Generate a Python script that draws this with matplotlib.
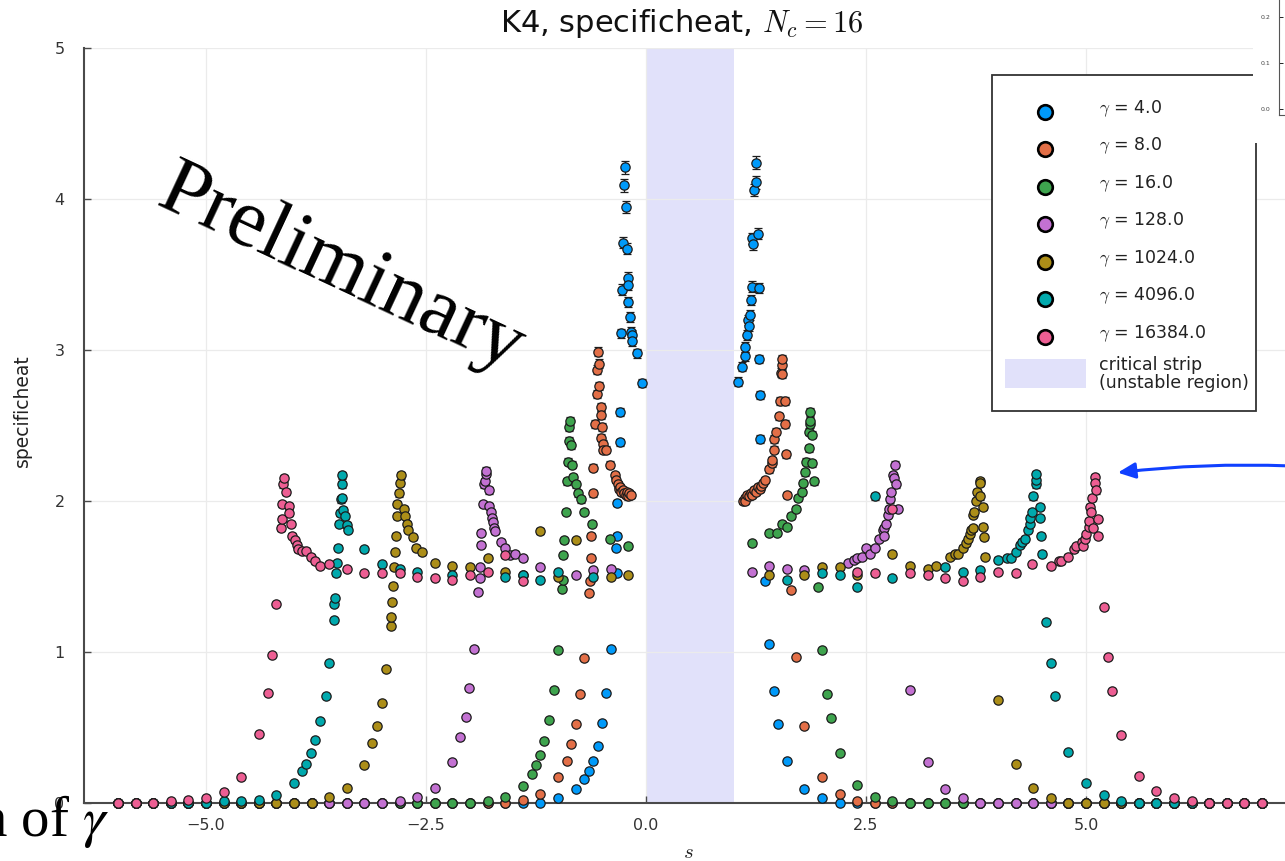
import matplotlib
matplotlib.use("Agg")
import matplotlib.pyplot as plt
from matplotlib.patches import Rectangle, FancyArrowPatch, ArrowStyle
from matplotlib.lines import Line2D

plt.rcParams['font.family'] = ['DejaVu Sans']
plt.rcParams['mathtext.fontset'] = 'cm'

W, H, DPI = 1285, 861, 100

# ---------------------------------------------------------------- data
gamma_labels = ["4.0", "8.0", "16.0", "128.0", "1024.0", "4096.0", "16384.0"]
series_colors = ["#009AFA", "#E36F47", "#3EA44E", "#C371D2",
                 "#AC8E18", "#00A9AD", "#ED5E93"]

# (s, specific heat) for gamma = 4
g4_pts = [(-6.0, 0.0), (-5.8, 0.0), (-5.6, 0.0), (-5.4, 0.0), (-5.2, 0.0), (-5.0, 0.0),
          (-4.8, 0.0), (-4.6, 0.0), (-4.4, 0.0), (-4.2, 0.0), (-4.0, 0.0), (-3.8, 0.0),
          (-3.6, 0.0), (-3.4, 0.0), (-3.2, 0.0), (-3.0, 0.0), (-2.8, 0.0), (-2.6, 0.0),
          (-2.4, 0.0), (-2.2, 0.0), (-2.0, 0.0), (-1.8, 0.0), (-1.6, 0.0), (-1.4, 0.0),
          (-1.2, 0.0), (-1.0, 0.03), (-0.8, 0.09), (-0.7, 0.16), (-0.65, 0.21), (-0.6, 0.28),
          (-0.55, 0.38), (-0.5, 0.53), (-0.45, 0.73), (-0.4, 1.02),
          (-0.34, 1.69), (-0.33, 1.52), (-0.33, 1.77), (-0.33, 1.99), (-0.30, 2.39),
          (-0.30, 2.59), (-0.28, 3.11), (-0.27, 3.40), (-0.26, 3.71), (-0.25, 4.09),
          (-0.24, 4.21), (-0.23, 3.95), (-0.22, 3.67), (-0.21, 3.48), (-0.20, 3.43),
          (-0.20, 3.32), (-0.18, 3.22), (-0.17, 3.12), (-0.16, 3.10), (-0.16, 3.06),
          (-0.10, 2.98), (-0.05, 2.78),
          (1.05, 2.79), (1.09, 2.89), (1.12, 2.96), (1.13, 3.02), (1.15, 3.10), (1.16, 3.20),
          (1.17, 3.16), (1.18, 3.23), (1.19, 3.33), (1.20, 3.42), (1.21, 3.74), (1.22, 3.70),
          (1.23, 4.06), (1.25, 4.11), (1.25, 4.24), (1.27, 3.77), (1.28, 3.41), (1.28, 2.94),
          (1.29, 2.70), (1.30, 2.41), (1.35, 1.47),
          (1.40, 1.05), (1.45, 0.74), (1.50, 0.52), (1.60, 0.28), (1.80, 0.09), (2.0, 0.03),
          (2.2, 0.0), (2.4, 0.0), (2.6, 0.0), (2.8, 0.0), (3.0, 0.0), (3.2, 0.0), (3.4, 0.0),
          (3.6, 0.0), (3.8, 0.0), (4.0, 0.0), (4.2, 0.0), (4.4, 0.0), (4.6, 0.0), (4.8, 0.0),
          (5.0, 0.0), (5.2, 0.0), (5.4, 0.0), (5.6, 0.0), (5.8, 0.0), (6.0, 0.0), (6.2, 0.0),
          (6.4, 0.0), (6.6, 0.0), (6.8, 0.0), (7.0, 0.0)]

# gamma = 8
g8_pts = [(-6.0, 0.0), (-5.8, 0.0), (-5.6, 0.0), (-5.4, 0.0), (-5.2, 0.0), (-5.0, 0.0),
          (-4.8, 0.0), (-4.6, 0.0), (-4.4, 0.0), (-4.2, 0.0), (-4.0, 0.0), (-3.8, 0.0),
          (-3.6, 0.0), (-3.4, 0.0), (-3.2, 0.0), (-3.0, 0.0), (-2.8, 0.0), (-2.6, 0.0),
          (-2.4, 0.0), (-2.2, 0.0), (-2.0, 0.0), (-1.8, 0.0), (-1.6, 0.0), (-1.4, 0.02),
          (-1.2, 0.06), (-1.0, 0.17), (-0.9, 0.28), (-0.85, 0.39), (-0.8, 0.52), (-0.75, 0.72),
          (-0.7, 0.96),
          (-0.65, 1.39), (-0.64, 1.47), (-0.63, 1.62), (-0.62, 1.77), (-0.60, 2.05),
          (-0.60, 2.22), (-0.58, 2.51), (-0.56, 2.71), (-0.56, 2.87), (-0.54, 2.99),
          (-0.53, 2.91), (-0.53, 2.76), (-0.51, 2.62), (-0.51, 2.57), (-0.51, 2.42),
          (-0.50, 2.49), (-0.49, 2.38), (-0.49, 2.34), (-0.45, 2.34), (-0.41, 2.24),
          (-0.35, 2.17), (-0.34, 2.14), (-0.32, 2.11), (-0.31, 2.08), (-0.29, 2.09),
          (-0.28, 2.06), (-0.26, 2.07), (-0.25, 2.05), (-0.23, 2.04), (-0.22, 2.06),
          (-0.20, 2.03), (-0.19, 2.05), (-0.17, 2.04),
          (1.10, 2.00), (1.12, 2.02), (1.13, 2.00), (1.15, 2.04), (1.17, 2.03), (1.19, 2.05),
          (1.21, 2.04), (1.23, 2.07), (1.25, 2.06), (1.27, 2.09), (1.29, 2.08), (1.31, 2.10),
          (1.33, 2.12), (1.35, 2.14), (1.40, 2.21), (1.43, 2.25), (1.43, 2.27), (1.45, 2.34),
          (1.46, 2.41), (1.48, 2.46), (1.51, 2.56), (1.52, 2.66), (1.53, 2.85), (1.54, 2.90),
          (1.54, 2.94), (1.55, 2.84), (1.58, 2.66), (1.58, 2.51), (1.59, 2.31), (1.60, 2.04),
          (1.65, 1.41),
          (1.70, 0.97), (1.80, 0.51), (2.0, 0.17), (2.2, 0.06), (2.4, 0.01), (2.6, 0.0),
          (2.8, 0.0), (3.0, 0.0), (3.2, 0.0), (3.4, 0.0), (3.6, 0.0), (3.8, 0.0), (4.0, 0.0),
          (4.2, 0.0), (4.4, 0.0), (4.6, 0.0), (4.8, 0.0), (5.0, 0.0), (5.2, 0.0), (5.4, 0.0),
          (5.6, 0.0), (5.8, 0.0), (6.0, 0.0), (6.2, 0.0), (6.4, 0.0), (6.6, 0.0), (6.8, 0.0),
          (7.0, 0.0)]

# gamma = 16
g16_pts = [(-6.0, 0.0), (-5.8, 0.0), (-5.6, 0.0), (-5.4, 0.0), (-5.2, 0.0), (-5.0, 0.0),
           (-4.8, 0.0), (-4.6, 0.0), (-4.4, 0.0), (-4.2, 0.0), (-4.0, 0.0), (-3.8, 0.0),
           (-3.6, 0.0), (-3.4, 0.0), (-3.2, 0.0), (-3.0, 0.0), (-2.8, 0.0), (-2.6, 0.0),
           (-2.4, 0.0), (-2.2, 0.0), (-2.0, 0.0), (-1.8, 0.01), (-1.6, 0.04), (-1.4, 0.11),
           (-1.3, 0.19), (-1.25, 0.25), (-1.2, 0.32), (-1.16, 0.41), (-1.1, 0.55),
           (-1.05, 0.75), (-1.0, 1.01),
           (-0.95, 1.42), (-0.94, 1.48), (-0.94, 1.64), (-0.93, 1.74), (-0.91, 1.93),
           (-0.90, 2.13), (-0.89, 2.26), (-0.88, 2.40), (-0.87, 2.49), (-0.86, 2.53),
           (-0.85, 2.37), (-0.84, 2.24), (-0.83, 2.16), (-0.79, 2.11), (-0.77, 2.05),
           (-0.74, 2.01), (-0.70, 1.93), (-0.61, 1.85), (-0.41, 1.75), (-0.20, 1.70),
           (1.20, 1.72), (1.40, 1.79), (1.49, 1.79), (1.55, 1.85), (1.60, 1.83), (1.65, 1.90),
           (1.70, 1.95), (1.73, 2.02), (1.77, 2.06), (1.78, 2.12), (1.81, 2.19), (1.82, 2.26),
           (1.85, 2.35), (1.85, 2.46), (1.86, 2.51), (1.86, 2.53), (1.86, 2.59), (1.89, 2.44),
           (1.89, 2.25), (1.91, 2.13), (1.95, 1.43),
           (2.0, 1.01), (2.06, 0.72), (2.10, 0.56), (2.20, 0.33), (2.40, 0.12), (2.60, 0.04),
           (2.80, 0.01), (3.0, 0.0), (3.2, 0.0), (3.4, 0.0), (3.6, 0.0), (3.8, 0.0), (4.0, 0.0),
           (4.2, 0.0), (4.4, 0.0), (4.6, 0.0), (4.8, 0.0), (5.0, 0.0), (5.2, 0.0), (5.4, 0.0),
           (5.6, 0.0), (5.8, 0.0), (6.0, 0.0), (6.2, 0.0), (6.4, 0.0), (6.6, 0.0), (6.8, 0.0),
           (7.0, 0.0)]

# gamma = 128
g128_pts = [(-6.0, 0.0), (-5.8, 0.0), (-5.6, 0.0), (-5.4, 0.0), (-5.2, 0.0), (-5.0, 0.0),
            (-4.8, 0.0), (-4.6, 0.0), (-4.4, 0.0), (-4.2, 0.0), (-4.0, 0.0), (-3.8, 0.0),
            (-3.6, 0.0), (-3.4, 0.0), (-3.2, 0.0), (-3.0, 0.0), (-2.8, 0.01), (-2.6, 0.04),
            (-2.4, 0.10), (-2.2, 0.27), (-2.11, 0.44), (-2.05, 0.57), (-2.01, 0.76),
            (-1.95, 1.02),
            (-1.91, 1.40), (-1.89, 1.49), (-1.89, 1.56), (-1.87, 1.71), (-1.87, 1.79),
            (-1.85, 1.98), (-1.84, 2.11), (-1.83, 2.13), (-1.82, 2.18), (-1.82, 2.20),
            (-1.78, 2.07), (-1.78, 1.97), (-1.76, 1.93), (-1.75, 1.89), (-1.74, 1.86),
            (-1.73, 1.82), (-1.72, 1.80), (-1.65, 1.73), (-1.60, 1.69), (-1.54, 1.64),
            (-1.49, 1.65), (-1.40, 1.62), (-1.20, 1.56), (-0.80, 1.51), (-0.60, 1.54),
            (-0.40, 1.55),
            (1.20, 1.53), (1.40, 1.57), (1.60, 1.55), (1.80, 1.54), (2.30, 1.59), (2.36, 1.61),
            (2.40, 1.62), (2.45, 1.63), (2.50, 1.69), (2.55, 1.65), (2.60, 1.69), (2.65, 1.75),
            (2.69, 1.81), (2.70, 1.82), (2.71, 1.77), (2.73, 1.85), (2.75, 1.91), (2.76, 1.95),
            (2.77, 2.01), (2.78, 2.06), (2.81, 2.17), (2.82, 2.15), (2.83, 2.24), (2.84, 2.11),
            (2.86, 1.95),
            (3.0, 0.75), (3.2, 0.27), (3.4, 0.09), (3.6, 0.03), (3.8, 0.0), (4.0, 0.0),
            (4.2, 0.0), (4.4, 0.0), (4.6, 0.0), (4.8, 0.0), (5.0, 0.0), (5.2, 0.0), (5.4, 0.0),
            (5.6, 0.0), (5.8, 0.0), (6.0, 0.0), (6.2, 0.0), (6.4, 0.0), (6.6, 0.0), (6.8, 0.0),
            (7.0, 0.0)]

# gamma = 1024
g1024_pts = [(-6.0, 0.0), (-5.8, 0.0), (-5.6, 0.0), (-5.4, 0.0), (-5.2, 0.0), (-5.0, 0.0),
             (-4.8, 0.0), (-4.6, 0.0), (-4.4, 0.0), (-4.2, 0.0), (-4.0, 0.0), (-3.8, 0.0),
             (-3.6, 0.04), (-3.4, 0.10), (-3.2, 0.25), (-3.11, 0.40), (-3.06, 0.51),
             (-3.0, 0.66), (-2.95, 0.89), (-2.90, 1.17), (-2.90, 1.23), (-2.89, 1.33),
             (-2.87, 1.44), (-2.86, 1.56), (-2.85, 1.66), (-2.84, 1.77), (-2.83, 1.90),
             (-2.83, 1.98), (-2.81, 2.05), (-2.79, 2.12), (-2.78, 2.17), (-2.75, 1.95),
             (-2.74, 1.90), (-2.72, 1.85), (-2.70, 1.81), (-2.65, 1.76), (-2.61, 1.69),
             (-2.55, 1.66), (-2.40, 1.59), (-2.20, 1.57), (-2.00, 1.56), (-1.80, 1.62),
             (-1.60, 1.53), (-1.40, 1.51), (-1.20, 1.80), (-1.00, 1.50), (-0.80, 1.74),
             (-0.40, 1.50), (-0.20, 1.51),
             (1.40, 1.51), (1.80, 1.51), (2.00, 1.56), (2.20, 1.56), (2.40, 1.51), (2.80, 1.65),
             (3.00, 1.57), (3.20, 1.55), (3.30, 1.57), (3.45, 1.63), (3.51, 1.65), (3.55, 1.65),
             (3.60, 1.69), (3.64, 1.72), (3.66, 1.75), (3.68, 1.78), (3.69, 1.81), (3.72, 1.82),
             (3.72, 1.91), (3.73, 1.93), (3.75, 2.00), (3.76, 2.06), (3.79, 2.13), (3.80, 2.12),
             (3.80, 2.03), (3.83, 1.96), (3.83, 1.83), (3.84, 1.76), (3.85, 1.63),
             (4.0, 0.68), (4.2, 0.26), (4.4, 0.10), (4.6, 0.03), (4.8, 0.0), (5.0, 0.0),
             (5.2, 0.0), (5.4, 0.0), (5.6, 0.0), (5.8, 0.0), (6.0, 0.0), (6.2, 0.0), (6.4, 0.0),
             (6.6, 0.0), (6.8, 0.0), (7.0, 0.0)]

# gamma = 4096
g4096_pts = [(-6.0, 0.0), (-5.8, 0.0), (-5.6, 0.0), (-5.4, 0.0), (-5.2, 0.0), (-5.0, 0.0),
             (-4.8, 0.01), (-4.6, 0.01), (-4.4, 0.02), (-4.2, 0.05), (-4.0, 0.13),
             (-3.91, 0.21), (-3.86, 0.26), (-3.81, 0.33), (-3.76, 0.42), (-3.70, 0.54),
             (-3.64, 0.71), (-3.60, 0.93), (-3.55, 1.21), (-3.54, 1.32), (-3.53, 1.36),
             (-3.52, 1.52), (-3.51, 1.59), (-3.50, 1.69), (-3.49, 1.85), (-3.48, 1.92),
             (-3.47, 2.01), (-3.46, 2.02), (-3.45, 2.11), (-3.45, 2.17), (-3.44, 1.94),
             (-3.42, 1.90), (-3.40, 1.84), (-3.39, 1.81), (-3.20, 1.68), (-3.00, 1.58),
             (-2.80, 1.55), (-2.60, 1.53), (-2.20, 1.51), (-1.60, 1.50), (-1.40, 1.51),
             (-1.20, 1.48), (-1.00, 1.53), (-0.60, 1.50),
             (1.60, 1.48), (2.00, 1.52), (2.20, 1.51), (2.40, 1.43), (2.60, 2.03), (2.80, 1.49),
             (3.40, 1.56), (3.60, 1.53), (3.80, 1.54), (4.00, 1.61), (4.10, 1.62), (4.15, 1.62),
             (4.20, 1.66), (4.25, 1.71), (4.27, 1.73), (4.31, 1.75), (4.34, 1.81), (4.36, 1.85),
             (4.36, 1.89), (4.39, 1.93), (4.40, 2.03), (4.43, 2.11), (4.43, 2.14), (4.43, 2.18),
             (4.48, 1.96), (4.48, 1.89), (4.49, 1.77), (4.50, 1.65),
             (4.55, 1.20), (4.60, 0.93), (4.65, 0.71), (4.80, 0.34), (5.0, 0.13), (5.2, 0.05),
             (5.4, 0.01), (5.6, 0.0), (5.8, 0.0), (6.0, 0.0), (6.2, 0.0), (6.4, 0.0), (6.6, 0.0),
             (6.8, 0.0), (7.0, 0.0)]

# gamma = 16384
g16384_pts = [(-6.0, 0.0), (-5.8, 0.0), (-5.6, 0.0), (-5.4, 0.01), (-5.2, 0.02), (-5.0, 0.03),
              (-4.8, 0.07), (-4.6, 0.17), (-4.4, 0.46), (-4.3, 0.73), (-4.25, 0.98),
              (-4.2, 1.32),
              (-4.15, 1.82), (-4.14, 1.88), (-4.14, 1.98), (-4.12, 2.11), (-4.11, 2.15),
              (-4.09, 2.06), (-4.06, 1.97), (-4.06, 1.92), (-4.03, 1.85), (-4.02, 1.77),
              (-3.99, 1.74), (-3.97, 1.71), (-3.95, 1.68), (-3.91, 1.67), (-3.86, 1.67),
              (-3.81, 1.63), (-3.76, 1.60), (-3.70, 1.57), (-3.60, 1.58), (-3.40, 1.55),
              (-3.20, 1.52), (-3.00, 1.52), (-2.80, 1.52), (-2.60, 1.50), (-2.40, 1.49),
              (-2.20, 1.48), (-2.00, 1.51), (-1.80, 1.53), (-1.60, 1.64), (-1.40, 1.47),
              (2.40, 1.53), (2.60, 1.52), (2.80, 1.95), (3.00, 1.52), (3.20, 1.51), (3.40, 1.49),
              (3.60, 1.47), (3.80, 1.50), (4.00, 1.53), (4.20, 1.52), (4.39, 1.58), (4.60, 1.57),
              (4.69, 1.60), (4.72, 1.60), (4.80, 1.63), (4.86, 1.68), (4.89, 1.70), (4.95, 1.73),
              (4.96, 1.70), (4.99, 1.75), (5.00, 1.78), (5.03, 1.83), (5.03, 1.87), (5.05, 1.96),
              (5.06, 1.93), (5.07, 2.02), (5.08, 1.82), (5.10, 2.16), (5.10, 2.12), (5.11, 2.07),
              (5.14, 1.88), (5.14, 1.77),
              (5.20, 1.30), (5.25, 0.97), (5.30, 0.74), (5.40, 0.45), (5.60, 0.18), (5.80, 0.08),
              (6.00, 0.03), (6.20, 0.01), (6.40, 0.0), (6.60, 0.0), (6.80, 0.0), (7.00, 0.0)]

all_series = [g4_pts, g8_pts, g16_pts, g128_pts, g1024_pts, g4096_pts, g16384_pts]

# statistical error relative to the measured value
rel_err = 0.010

# critical strip (unstable region) in s
strip_lo, strip_hi = 0.0, 1.0

# ---------------------------------------------------------------- helpers
def fx(px):
    return px / W


def fy(py):
    return 1.0 - py / H


fig = plt.figure(figsize=(W / DPI, H / DPI), dpi=DPI, facecolor="white")

# main axes: left spine at x=84 px, y=0 at 803 px, y=5 at 48 px
ax = fig.add_axes([fx(84), fy(803), (1296 - 84) / W, (803 - 48) / H])
ax.set_xlim(-6.386, 7.386)
ax.set_ylim(0, 5)

ax.axvspan(strip_lo, strip_hi, color="#E1E1FA", lw=0, zorder=0.5)

for pts, col in zip(all_series, series_colors):
    s_vals = [p[0] for p in pts]
    c_vals = [p[1] for p in pts]
    errs = [rel_err * v for v in c_vals]
    ax.errorbar(s_vals, c_vals, yerr=errs, fmt="none", ecolor="#1c1c1c",
                elinewidth=0.9, capsize=3.2, capthick=0.9, zorder=2)
    ax.plot(s_vals, c_vals, linestyle="none", marker="o", ms=6.7,
            mfc=col, mec="#1c1c1c", mew=0.9, clip_on=False, zorder=3)

ax.set_xticks([-5, -2.5, 0, 2.5, 5])
ax.set_xticklabels(["\u22125.0", "\u22122.5", "0.0", "2.5", "5.0"])
ax.set_yticks([0, 1, 2, 3, 4, 5])
ax.grid(True, color="#ebebeb", lw=0.9, zorder=0)
ax.set_axisbelow(True)
for side in ("top", "right"):
    ax.spines[side].set_visible(False)
for side in ("left", "bottom"):
    ax.spines[side].set_color("#4a4a4a")
    ax.spines[side].set_linewidth(1.5)
    ax.spines[side].set_zorder(2.5)
ax.tick_params(direction="in", length=5, width=1, color="#4a4a4a",
               labelcolor="#333333", labelsize=11.5)
ax.tick_params(axis="y", pad=14)
ax.tick_params(axis="x", pad=11)

# titles and axis labels
fig.text(fx(682), fy(32), r"K4, specificheat, $N_c = 16$", ha="center",
         va="baseline", fontsize=22, color="#111111")
fig.text(fx(22), fy(411), "specificheat", rotation=90, ha="center", va="center",
         fontsize=13.5, color="#222222")
fig.text(fx(688), fy(852), r"$s$", ha="center", va="center", fontsize=15,
         color="#222222")

# ---------------------------------------------------------------- legend
leg_frame = Rectangle((fx(992), fy(411)), (1256 - 992) / W, (411 - 75) / H,
                      transform=fig.transFigure, facecolor="white",
                      edgecolor="#333333", lw=1.3, zorder=4)
fig.add_artist(leg_frame)
row_y = [112, 149, 187, 224, 262, 299, 337]
for yy, col, lab in zip(row_y, series_colors, gamma_labels):
    fig.add_artist(Line2D([fx(1045)], [fy(yy)], transform=fig.transFigure,
                          marker="o", ms=10.5, mfc=col, mec="black", mew=1.9,
                          linestyle="none", zorder=5))
    fig.text(fx(1099), fy(yy - 3), r"$\gamma$ = " + lab, ha="left", va="center",
             fontsize=12.5, color="#222222", zorder=5)
fig.add_artist(Rectangle((fx(1005), fy(388)), 81 / W, 29 / H,
                         transform=fig.transFigure, facecolor="#E1E1FA",
                         lw=0, zorder=5))
fig.text(fx(1099), fy(374), "critical strip\n(unstable region)", ha="left",
         va="center", fontsize=12.5, linespacing=0.95, color="#222222", zorder=5)

# ---------------------------------------------------------------- inset corner
fig.add_artist(Rectangle((fx(1253), fy(143)), (W - 1253) / W, 143 / H,
                         transform=fig.transFigure, facecolor="white", lw=0,
                         zorder=6))
ins = fig.add_axes([fx(1279), fy(115), 100 / W, 115 / H], zorder=7)
ins.set_ylim(-0.013, 0.237)
ins.set_xlim(0, 1)
ins.set_yticks([0.0, 0.1, 0.2])
ins.set_yticklabels(["0.0", "0.1", "0.2"])
ins.set_xticks([])
for side in ("top", "right"):
    ins.spines[side].set_visible(False)
for side in ("left", "bottom"):
    ins.spines[side].set_color("#555555")
    ins.spines[side].set_linewidth(0.8)
ins.tick_params(direction="in", length=3, width=0.6, labelsize=4.5,
                labelcolor="#444444", pad=6)

# ---------------------------------------------------------------- annotations
fig.text(fx(341), fy(270), "Preliminary", rotation=-25, rotation_mode="anchor",
         ha="center", va="center", fontsize=60, family="Liberation Serif",
         color="black", zorder=8)
fig.text(fx(-22), fy(836), r"n of $\gamma$", ha="left", va="baseline",
         fontsize=41, family="Liberation Serif", math_fontfamily="stix",
         color="black", zorder=8)

arrow = FancyArrowPatch((fx(1292), fy(466)), (fx(1115), fy(473)),
                        transform=fig.transFigure,
                        connectionstyle="arc3,rad=0.04",
                        arrowstyle=ArrowStyle("-|>", head_length=0.75, head_width=0.34),
                        mutation_scale=14, color="#1040FF", lw=2.2, zorder=8)
fig.add_artist(arrow)

fig.savefig("out.png", dpi=DPI, facecolor="white")
